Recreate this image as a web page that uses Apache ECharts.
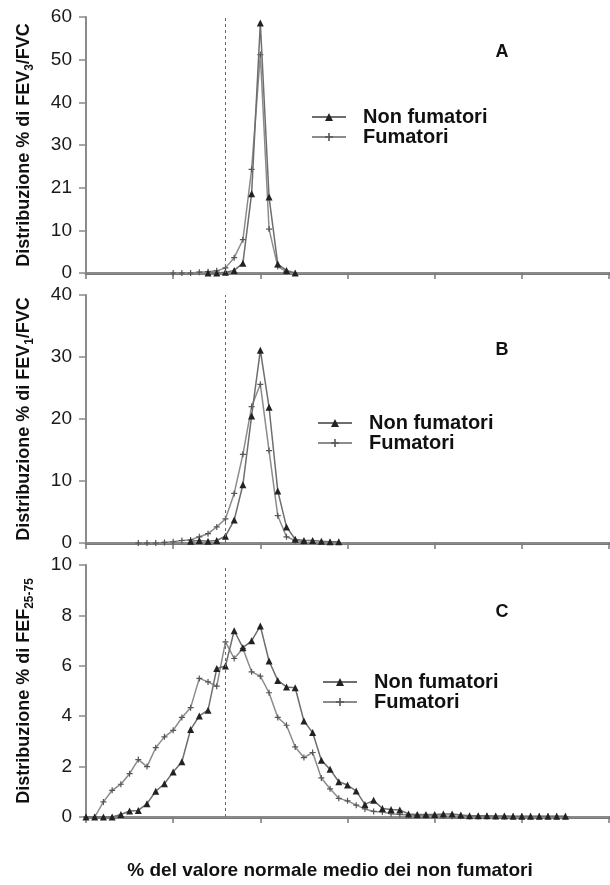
<!DOCTYPE html>
<html>
<head>
<meta charset="utf-8">
<script src="https://cdn.jsdelivr.net/npm/echarts@6/dist/echarts.min.js"></script>
<style>
  html, body { margin: 0; padding: 0; background: #fff; }
  #chart { width: 610px; height: 885px; }
</style>
</head>
<body>
<div id="chart"></div>
<script>
// 数据 - pannello A (FEV3/FVC)
var xA_non = [70, 75, 80, 85, 90, 95, 100, 105, 110, 115, 120];
var yA_non = [0, 0, 0.2, 0.6, 2.3, 18.6, 58.6, 17.8, 2.1, 0.6, 0];
var xA_fum = [50, 55, 60, 65, 70, 75, 80, 85, 90, 95, 100, 105, 110, 115];
var yA_fum = [0, 0, 0, 0.2, 0.3, 0.5, 1.2, 3.6, 7.8, 24.3, 51.2, 10.3, 1.5, 0.3];

// pannello B (FEV1/FVC)
var xB_non = [60, 65, 70, 75, 80, 85, 90, 95, 100, 105, 110, 115, 120, 125, 130, 135, 140, 145];
var yB_non = [0.3, 0.4, 0.3, 0.4, 1.1, 3.7, 9.4, 20.5, 31.1, 21.9, 8.4, 2.6, 0.6, 0.4, 0.4, 0.3, 0.2, 0.2];
var xB_fum = [30, 35, 40, 45, 50, 55, 60, 65, 70, 75, 80, 85, 90, 95, 100, 105, 110, 115, 120, 125];
var yB_fum = [0, 0, 0, 0.1, 0.2, 0.4, 0.5, 1.0, 1.5, 2.6, 3.9, 8.0, 14.3, 22.0, 25.6, 14.9, 4.4, 1.0, 0.4, 0.2];

// pannello C (FEF25-75)
var xC = [0, 5, 10, 15, 20, 25, 30, 35, 40, 45, 50, 55, 60, 65, 70, 75, 80, 85, 90, 95,
          100, 105, 110, 115, 120, 125, 130, 135, 140, 145, 150, 155, 160, 165, 170, 175, 180, 185, 190, 195,
          200, 205, 210, 215, 220, 225, 230, 235, 240, 245, 250, 255, 260, 265, 270, 275];
var yC_non = [0, 0, 0, 0, 0.1, 0.24, 0.26, 0.53, 1.02, 1.32, 1.79, 2.19, 3.47, 4.01, 4.24, 5.89, 5.99, 7.39, 6.72, 6.99,
              7.58, 6.19, 5.42, 5.16, 5.13, 3.81, 3.35, 2.25, 1.89, 1.4, 1.27, 1.03, 0.5, 0.66, 0.34, 0.3, 0.28, 0.12, 0.1, 0.1,
              0.1, 0.12, 0.12, 0.08, 0.05, 0.05, 0.05, 0.04, 0.04, 0.03, 0.03, 0.03, 0.03, 0.03, 0.03, 0.03];
var yC_fum = [0, 0, 0.6, 1.06, 1.3, 1.72, 2.28, 2.0, 2.75, 3.18, 3.44, 3.95, 4.34, 5.5, 5.36, 5.19, 6.95, 6.29, 6.69, 5.76,
              5.59, 4.93, 3.95, 3.64, 2.78, 2.36, 2.56, 1.55, 1.12, 0.74, 0.64, 0.47, 0.32, 0.22, 0.2, 0.13, 0.1, 0.08, 0.06, 0.05,
              0.05, 0.04, 0.03, 0.03, 0.02, 0.02, 0.02, 0.02, 0.02, 0.02, 0.02, 0.02, 0.02, 0.02, 0.02, 0.02];

// etichette asse y (come nell'originale: "21" al posto di 20)
var yLabelsA = ['0', '10', '21', '30', '40', '50', '60'];
var yLabelsB = ['0', '10', '20', '30', '40'];
var yLabelsC = ['0', '2', '4', '6', '8', '10'];
var panelLetters = ['A', 'B', 'C'];
var seriesNames = ['Non fumatori', 'Fumatori'];
var llnX = 80; // linea tratteggiata

function pairs(xs, ys) {
    var out = [];
    for (var i = 0; i < xs.length; i++) out.push([xs[i], ys[i]]);
    return out;
}

var FONT = '"Liberation Sans", Arial, Helvetica, sans-serif';
var plusPath = 'path://M4,0h2v4h4v2h-4v4h-2v-4h-4v-2h4z';

var grids = [
    { left: 86, right: 1, top: 17, height: 256 },
    { left: 86, right: 1, top: 295, height: 248 },
    { left: 86, right: 1, top: 565, height: 252 }
];

var xAxes = [];
var i;
for (i = 0; i < 3; i++) {
    xAxes.push({
        type: 'value', gridIndex: i, min: 0, max: 300, interval: 50,
        axisLine: { show: true, onZero: false, lineStyle: { color: '#7a7a7a', width: 3 } },
        axisTick: { show: true, length: 6, lineStyle: { color: '#7a7a7a', width: 1.5 } },
        axisLabel: { show: false },
        splitLine: { show: false }
    });
}
for (i = 0; i < 3; i++) {
    xAxes.push({
        type: 'value', gridIndex: i, position: 'top', min: 0, max: 300,
        axisLine: { show: true, lineStyle: { color: '#8a8a8a', width: 2 } },
        axisTick: { show: false }, axisLabel: { show: false }, splitLine: { show: false }
    });
}

function yAxis(idx, max, interval, labels, nameRich) {
    return {
        type: 'value', gridIndex: idx, min: 0, max: max, interval: interval,
        axisLine: { show: true, lineStyle: { color: '#8a8a8a', width: 2 } },
        axisTick: { show: true, length: 7, lineStyle: { color: '#8a8a8a', width: 1.5 } },
        axisLabel: {
            fontSize: 19, color: '#1a1a1a', fontFamily: FONT, margin: 14,
            formatter: function (v) { return labels[Math.round(v / interval)]; }
        },
        splitLine: { show: false },
        name: nameRich,
        nameLocation: 'middle',
        nameRotate: 90,
        nameGap: 50,
        nameTextStyle: {
            rich: {
                a: { fontSize: 18, fontWeight: 'bold', color: '#111', fontFamily: FONT, lineHeight: 24, verticalAlign: 'middle' },
                s: { fontSize: 12, fontWeight: 'bold', color: '#111', fontFamily: FONT, lineHeight: 24, verticalAlign: 'bottom' }
            }
        }
    };
}

var yAxes = [
    yAxis(0, 60, 10, yLabelsA, '{a|Distribuzione % di FEV}{s|3}{a|/FVC}'),
    yAxis(1, 40, 10, yLabelsB, '{a|Distribuzione % di FEV}{s|1}{a|/FVC}'),
    yAxis(2, 10, 2, yLabelsC, '{a|Distribuzione % di FEF}{s|25-75}')
];

var panels = [
    [pairs(xA_non, yA_non), pairs(xA_fum, yA_fum)],
    [pairs(xB_non, yB_non), pairs(xB_fum, yB_fum)],
    [pairs(xC, yC_non), pairs(xC, yC_fum)]
];

var series = [];
for (i = 0; i < 3; i++) {
    series.push({
        name: seriesNames[1], type: 'line', xAxisIndex: i, yAxisIndex: i,
        data: panels[i][1],
        symbol: plusPath, symbolSize: 6, showAllSymbol: true,
        lineStyle: { color: '#8c8c8c', width: 1.5 },
        itemStyle: { color: '#555' },
        animation: false, z: 3
    });
    series.push({
        name: seriesNames[0], type: 'line', xAxisIndex: i, yAxisIndex: i,
        data: panels[i][0],
        symbol: 'triangle', symbolSize: 7, showAllSymbol: true,
        lineStyle: { color: '#6e6e6e', width: 1.5 },
        itemStyle: { color: '#222' },
        animation: false, z: 4,
        markLine: {
            silent: true, symbol: 'none', animation: false,
            label: { show: false },
            lineStyle: { type: [3, 3], color: '#666', width: 1 },
            data: [{ xAxis: llnX }]
        }
    });
}

function legend(left, top) {
    return {
        orient: 'vertical', left: left, top: top, itemGap: 0, padding: 0,
        itemWidth: 34, itemHeight: 10, selectedMode: false,
        data: seriesNames,
        textStyle: { fontSize: 20, fontWeight: 'bold', color: '#111', fontFamily: FONT, lineHeight: 20, padding: [0, 0, 0, 12] }
    };
}

var letterPos = [[502, 52], [502, 350], [502, 612]];
var graphics = [];
for (i = 0; i < 3; i++) {
    graphics.push({
        type: 'text', x: letterPos[i][0], y: letterPos[i][1],
        style: { text: panelLetters[i], font: 'bold 18px ' + FONT, fill: '#111', textAlign: 'center', textVerticalAlign: 'middle' }
    });
}
graphics.push({
    type: 'text', x: 330, y: 871,
    style: { text: '% del valore normale medio dei non fumatori', font: 'bold 19px ' + FONT, fill: '#111', textAlign: 'center', textVerticalAlign: 'middle' }
});

var myChart = echarts.init(document.getElementById('chart'));
myChart.setOption({
    backgroundColor: '#fff',
    animation: false,
    grid: grids,
    xAxis: xAxes,
    yAxis: yAxes,
    legend: [legend(311, 107), legend(317, 413), legend(322, 672)],
    series: series,
    graphic: graphics
});
</script>
</body>
</html>
